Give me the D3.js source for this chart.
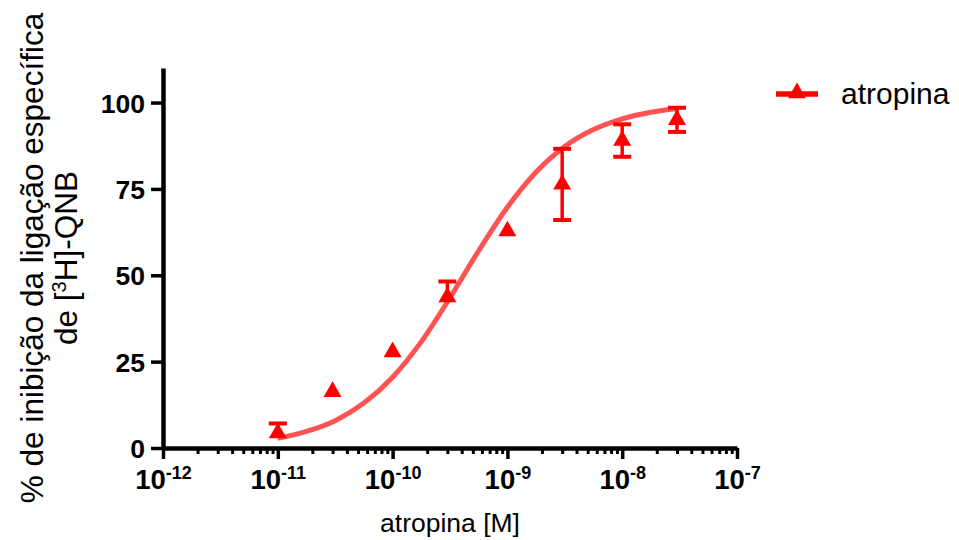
<!DOCTYPE html>
<html>
<head>
<meta charset="utf-8">
<script src="https://cdn.jsdelivr.net/npm/d3@7"></script>
<style>
  html, body { margin: 0; padding: 0; background: #fff; }
  svg { display: block; font-family: "Liberation Sans", Arial, Helvetica, sans-serif; }
</style>
</head>
<body>
<svg id="chart" width="959" height="540"></svg>
<script>
// ---- data ----
const concentrations = [1e-11, 3e-11, 1e-10, 3e-10, 1e-9, 3e-9, 1e-8, 3e-8];
const inhibitionMean = [4.3, 16.3, 27.8, 43.7, 62.8, 76.3, 89.0, 95.0];
const errorUp   = [2.8, 0, 0, 4.5, 0, 10.3, 4.7, 3.5];
const errorDown = [0, 0, 0, 0, 0, 10.3, 4.7, 3.5];

// fitted curve as drawn in the reference (x in M, y in %)
const curveX = [1e-11, 1.78e-11, 3.16e-11, 5.62e-11, 1e-10, 1.78e-10, 3.16e-10, 5.62e-10, 1e-9, 1.78e-9, 3.16e-9, 5.62e-9, 1e-8, 1.78e-8, 3e-8];
const curveY = [2.8, 4.8, 7.9, 13.0, 20.5, 30.8, 43.5, 57.1, 69.7, 79.9, 87.3, 92.2, 95.3, 97.2, 98.3];

const xTicks = [1e-12, 1e-11, 1e-10, 1e-9, 1e-8, 1e-7];
const xTickExponents = ["-12", "-11", "-10", "-9", "-8", "-7"];
const yTicks = [0, 25, 50, 75, 100];
const seriesName = "atropina";
const xTitle = "atropina [M]";
const yTitleLine1 = "% de inibição da ligação específica";

// ---- layout ----
const W = 959, H = 540;
const margin = { left: 163, right: 222, top: 68, bottom: 92 };
const RED = "#ff0000";

const svg = d3.select("#chart");

const x = d3.scaleLog().domain([1e-12, 1e-7]).range([margin.left, W - margin.right]);
const y = d3.scaleLinear().domain([0, 110]).range([H - margin.bottom, margin.top]);

// ---- curve ----
const curvePts = curveX.map((cx, i) => [cx, curveY[i]]);
svg.append("path")
  .datum(curvePts)
  .attr("fill", "none")
  .attr("stroke", "#ff3b3b")
  .attr("stroke-opacity", 0.88)
  .attr("stroke-width", 5)
  .attr("d", d3.line().x(d => x(d[0])).y(d => y(d[1])).curve(d3.curveMonotoneX));

// ---- error bars ----
const pts = concentrations.map((c, i) => ({ c, m: inhibitionMean[i], up: errorUp[i], dn: errorDown[i] }));
const eb = svg.append("g").attr("stroke", RED);
pts.forEach(d => {
  const cx = x(d.c);
  if (d.up > 0) {
    eb.append("line").attr("x1", cx).attr("x2", cx)
      .attr("y1", y(d.m)).attr("y2", y(d.m + d.up)).attr("stroke-width", 3.5);
    eb.append("line").attr("x1", cx - 9).attr("x2", cx + 9)
      .attr("y1", y(d.m + d.up)).attr("y2", y(d.m + d.up)).attr("stroke-width", 4);
  }
  if (d.dn > 0) {
    eb.append("line").attr("x1", cx).attr("x2", cx)
      .attr("y1", y(d.m)).attr("y2", y(d.m - d.dn)).attr("stroke-width", 3.5);
    eb.append("line").attr("x1", cx - 9).attr("x2", cx + 9)
      .attr("y1", y(d.m - d.dn)).attr("y2", y(d.m - d.dn)).attr("stroke-width", 4);
  }
});

// ---- markers ----
const tri = d3.symbol().type(d3.symbolTriangle).size(140);
svg.append("g").selectAll("path").data(pts).join("path")
  .attr("d", tri)
  .attr("fill", RED)
  .attr("transform", d => `translate(${x(d.c)},${y(d.m)})`);

// ---- axes ----
const xMinor = [];
for (let e = -12; e < -7; e++) for (let k = 2; k <= 9; k++) xMinor.push(k * Math.pow(10, e));

const gxMinor = svg.append("g")
  .attr("transform", `translate(0,${H - margin.bottom})`)
  .call(d3.axisBottom(x).tickValues(xMinor).tickSize(6).tickSizeOuter(0).tickFormat(""));
gxMinor.select(".domain").remove();
gxMinor.selectAll(".tick line").attr("stroke", "#000").attr("stroke-width", 3);

const gx = svg.append("g")
  .attr("transform", `translate(0,${H - margin.bottom})`)
  .call(d3.axisBottom(x).tickValues(xTicks).tickSize(11).tickSizeOuter(0).tickPadding(8));
gx.select(".domain").attr("stroke", "#000").attr("stroke-width", 4.5);
gx.selectAll(".tick line").attr("stroke", "#000").attr("stroke-width", 3.5);
gx.selectAll(".tick text").each(function(d, i) {
  const t = d3.select(this);
  t.text(null)
    .attr("fill", "#000")
    .attr("font-size", 27.5)
    .attr("font-weight", "bold")
    .attr("font-family", "'Liberation Sans', Arial, sans-serif")
    .attr("dy", null)
    .attr("y", 41)
    .attr("text-anchor", "middle");
  t.append("tspan").text("10");
  t.append("tspan").attr("font-size", 18).attr("dy", -10).text(xTickExponents[i]);
});

const gy = svg.append("g")
  .attr("transform", `translate(${margin.left},0)`)
  .call(d3.axisLeft(y).tickValues(yTicks).tickSize(12).tickSizeOuter(0).tickPadding(6));
gy.select(".domain").attr("stroke", "#000").attr("stroke-width", 4.5);
gy.selectAll(".tick line").attr("stroke", "#000").attr("stroke-width", 3.5);
gy.selectAll(".tick text")
  .attr("fill", "#000")
  .attr("font-size", 26.5)
  .attr("font-weight", "bold")
  .attr("font-family", "'Liberation Sans', Arial, sans-serif")
  .attr("dy", "0.36em");

// ---- titles ----
svg.append("text")
  .attr("x", (x.range()[0] + x.range()[1]) / 2)
  .attr("y", 532)
  .attr("text-anchor", "middle")
  .attr("font-size", 26.5)
  .attr("fill", "#000")
  .text(xTitle);

const yMid = (y.range()[0] + y.range()[1]) / 2;
svg.append("text")
  .attr("transform", `translate(43,${yMid}) rotate(-90)`)
  .attr("text-anchor", "middle")
  .attr("font-size", 31.5)
  .attr("fill", "#000")
  .text(yTitleLine1);

const yt2 = svg.append("text")
  .attr("transform", `translate(77,${yMid}) rotate(-90)`)
  .attr("text-anchor", "middle")
  .attr("font-size", 31.5)
  .attr("fill", "#000");
yt2.append("tspan").text("de [");
yt2.append("tspan").attr("font-size", 20).attr("dy", -11).text("3");
yt2.append("tspan").attr("dy", 11).text("H]-QNB");

// ---- legend ----
const lg = svg.append("g").attr("transform", "translate(776,94)");
lg.append("line").attr("x1", 0).attr("x2", 42).attr("y1", 0).attr("y2", 0)
  .attr("stroke", RED).attr("stroke-width", 5.5);
lg.append("path").attr("d", tri).attr("fill", RED).attr("transform", "translate(21,-1)");
lg.append("text").attr("x", 65).attr("y", 10).attr("font-size", 30).attr("fill", "#000").text(seriesName);
</script>
</body>
</html>
